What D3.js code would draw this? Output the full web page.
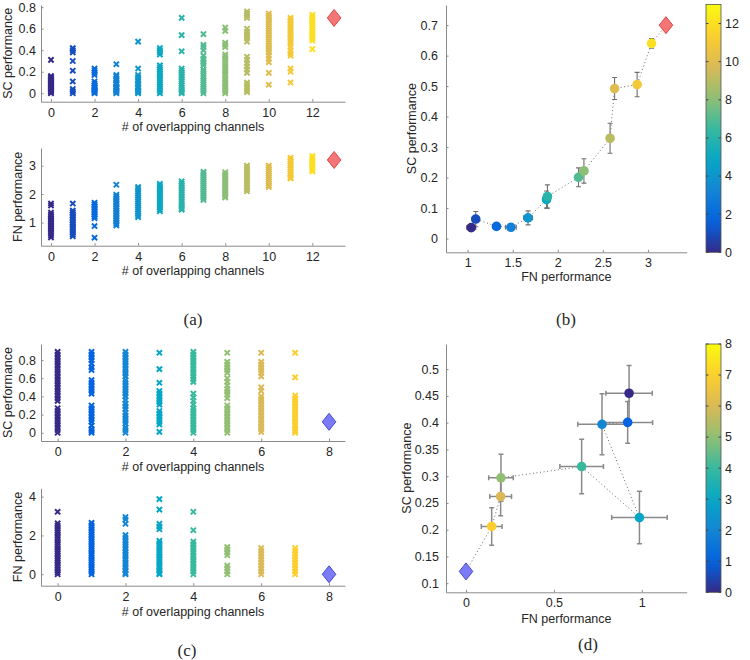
<!DOCTYPE html>
<html><head><meta charset="utf-8">
<script src="https://cdn.jsdelivr.net/npm/d3@7"></script>
<style>
body{margin:0;background:#fff}
text{font-family:"Liberation Sans",Arial,sans-serif;fill:#262626}
</style>
</head><body>
<svg id="chart" width="750" height="660"></svg>
<script>
// ---------------- DATA ----------------
// Panel (a): SC performance per # of overlapping channels (0..12)
const scA_SC = [
 [0.31,0.16,0.15,0.14,0.13,0.12,0.11,0.10,0.09,0.08,0.07,0.06,0.05,0.04,0.03,0.02,0.01,0.00],
 [0.42,0.40,0.38,0.30,0.21,0.11,0.04,0.02,0.00],
 [0.23,0.21,0.19,0.17,0.11,0.09,0.07,0.06,0.05,0.04,0.03,0.02,0.01,0.00],
 [0.27,0.17,0.16,0.14,0.12,0.10,0.09,0.08,0.06,0.05,0.04,0.03,0.02,0.01,0.00],
 [0.48,0.23,0.17,0.15,0.13,0.11,0.09,0.08,0.06,0.05,0.03,0.02,0.01,0.00],
 [0.42,0.40,0.38,0.36,0.26,0.24,0.22,0.20,0.18,0.16,0.14,0.12,0.10,0.08,0.06,0.04,0.02,0.00],
 [0.70,0.54,0.39,0.23,0.21,0.19,0.17,0.15,0.13,0.11,0.09,0.07,0.05,0.03,0.01,0.00],
 [0.55,0.45,0.43,0.40,0.35,0.32,0.30,0.28,0.26,0.22,0.20,0.17,0.15,0.12,0.10,0.08,0.06,0.04,0.02,0.00],
 [0.61,0.58,0.47,0.45,0.43,0.36,0.34,0.32,0.30,0.27,0.25,0.23,0.21,0.19,0.17,0.14,0.12,0.10,0.08,0.06,0.04,0.02,0.00],
 [0.76,0.74,0.72,0.70,0.60,0.57,0.55,0.53,0.51,0.48,0.34,0.31,0.28,0.25,0.22,0.19,0.10,0.08,0.05,0.03,0.01],
 [0.74,0.72,0.70,0.68,0.66,0.64,0.62,0.60,0.58,0.56,0.54,0.52,0.50,0.48,0.46,0.44,0.42,0.40,0.38,0.35,0.32,0.29,0.19,0.08],
 [0.70,0.68,0.66,0.64,0.62,0.60,0.58,0.56,0.54,0.52,0.50,0.48,0.46,0.43,0.40,0.37,0.35,0.23,0.20,0.10],
 [0.73,0.71,0.69,0.67,0.65,0.63,0.61,0.59,0.57,0.55,0.53,0.51,0.49,0.41]
];
// Panel (a): FN performance per # of overlapping channels (0..12)
const scA_FN = [
 [1.67,1.60,1.35,1.28,1.22,1.16,1.10,1.04,0.98,0.92,0.86,0.80,0.74,0.68,0.62,0.55,0.48],
 [1.67,1.42,1.36,1.30,1.24,1.18,1.12,1.06,1.00,0.94,0.88,0.82,0.76,0.70,0.64,0.58,0.52],
 [1.70,1.64,1.58,1.52,1.46,1.40,1.34,1.28,1.22,1.16,0.88,0.47],
 [2.33,1.98,1.92,1.86,1.80,1.74,1.68,1.62,1.56,1.50,1.44,1.38,1.32,1.26,1.20,1.14,1.08,1.02,0.96,0.90],
 [2.25,2.18,2.10,2.03,1.96,1.89,1.82,1.75,1.68,1.61,1.54,1.47,1.40,1.33,1.26,1.19],
 [2.36,2.29,2.22,2.15,2.08,2.01,1.94,1.87,1.80,1.73,1.66,1.59,1.52,1.45,1.40],
 [2.45,2.38,2.30,2.22,2.14,2.06,1.98,1.90,1.82,1.74,1.66,1.58,1.50,1.45],
 [2.78,2.71,2.64,2.57,2.50,2.43,2.36,2.29,2.22,2.15,2.08,2.01,1.94,1.87,1.80],
 [2.77,2.70,2.63,2.56,2.49,2.42,2.35,2.28,2.21,2.14,2.07,2.00,1.93,1.88],
 [3.00,2.93,2.86,2.79,2.72,2.65,2.58,2.51,2.44,2.37,2.30,2.23,2.16,2.10],
 [3.00,2.93,2.86,2.79,2.72,2.65,2.58,2.51,2.44,2.37,2.30,2.25],
 [3.28,3.21,3.14,3.07,3.00,2.93,2.86,2.79,2.72,2.65,2.58,2.55],
 [3.34,3.27,3.20,3.13,3.06,2.99,2.92,2.85,2.80]
];
const refA_channels = 13, refA_SC = 0.70, refA_FN = 3.2;

// Panel (b): mean FN / SC per # of overlapping channels (0..12) with errors
const ptsB_FN    = [1.04,1.09,1.32,1.48,1.67,1.875,1.885,2.23,2.29,2.58,2.63,2.88,3.04];
const ptsB_SC    = [0.036,0.064,0.040,0.037,0.068,0.128,0.138,0.201,0.222,0.329,0.492,0.505,0.640];
const ptsB_FNerr = [0.05,0.04,0.04,0.06,0.05,0.04,0.04,0.03,0.04,0.03,0.03,0.02,0.02];
const ptsB_SCerr = [0.010,0.025,0.010,0.010,0.023,0.028,0.038,0.031,0.040,0.049,0.036,0.040,0.016];
const refB_FN = 3.2, refB_SC = 0.70;

// Panel (c): SC / FN performance per # of overlapping channels (0..7)
const scC_SC = [
 [0.89,0.86,0.83,0.80,0.77,0.74,0.71,0.68,0.65,0.62,0.59,0.56,0.53,0.50,0.47,0.44,0.41,0.38,0.35,0.27,0.24,0.21,0.18,0.15,0.12,0.09,0.06,0.03,0.00],
 [0.89,0.86,0.83,0.80,0.76,0.72,0.69,0.58,0.55,0.52,0.49,0.46,0.43,0.30,0.27,0.24,0.21,0.18,0.15,0.12,0.08,0.04,0.02,0.00],
 [0.89,0.86,0.83,0.80,0.77,0.74,0.71,0.68,0.65,0.62,0.58,0.55,0.52,0.49,0.46,0.43,0.40,0.36,0.32,0.29,0.26,0.22,0.19,0.16,0.13,0.10,0.06,0.03,0.00],
 [0.88,0.70,0.55,0.46,0.43,0.40,0.37,0.34,0.31,0.24,0.21,0.18,0.15,0.12,0.09,0.01],
 [0.89,0.86,0.83,0.80,0.77,0.74,0.71,0.68,0.65,0.62,0.59,0.56,0.43,0.39,0.35,0.31,0.27,0.24,0.21,0.18,0.15,0.12,0.09,0.06,0.03,0.00],
 [0.88,0.78,0.75,0.72,0.69,0.66,0.60,0.56,0.52,0.48,0.45,0.42,0.38,0.30,0.27,0.24,0.21,0.18,0.15,0.12,0.09,0.06,0.03,0.00],
 [0.88,0.78,0.75,0.72,0.69,0.66,0.62,0.50,0.46,0.40,0.37,0.34,0.31,0.28,0.25,0.22,0.19,0.16,0.13,0.10,0.07,0.04,0.01],
 [0.88,0.61,0.41,0.38,0.35,0.32,0.29,0.26,0.23,0.20,0.17,0.14,0.11,0.08,0.05,0.02,0.00]
];
const scC_FN = [
 [3.22,2.62,2.50,2.38,2.26,2.14,2.02,1.90,1.78,1.66,1.54,1.42,1.30,1.18,1.06,0.94,0.82,0.70,0.58,0.46,0.34,0.22,0.10,0.00],
 [2.65,2.52,2.40,2.28,2.16,2.04,1.92,1.80,1.68,1.56,1.44,1.32,1.20,1.08,0.96,0.84,0.72,0.60,0.48,0.36,0.24,0.12,0.00],
 [2.95,2.82,2.60,2.02,1.88,1.74,1.60,1.46,1.32,1.18,1.04,0.90,0.76,0.62,0.48,0.34,0.20,0.06,0.00],
 [3.87,3.33,2.60,2.45,2.32,1.72,1.60,1.48,1.36,1.24,1.12,1.00,0.88,0.76,0.64,0.52,0.40,0.28,0.16,0.04,0.00],
 [3.22,2.27,1.68,1.54,1.40,1.26,1.12,0.98,0.84,0.70,0.56,0.42,0.28,0.14,0.00],
 [1.40,1.27,1.12,0.98,0.45,0.32,0.15,0.00],
 [1.35,1.20,1.05,0.90,0.75,0.60,0.45,0.30,0.15,0.00],
 [1.35,1.20,1.05,0.90,0.75,0.60,0.45,0.30,0.15,0.00]
];
const refC_channels = 8, refC_SC = 0.12, refC_FN = 0.0;

// Panel (d): mean FN / SC per # of overlapping channels (0..7) with errors
const ptsD_FN    = [0.928,0.920,0.774,0.987,0.658,0.199,0.197,0.146];
const ptsD_SC    = [0.455,0.4005,0.397,0.2226,0.318,0.297,0.262,0.206];
const ptsD_FNerr = [0.132,0.142,0.138,0.158,0.124,0.070,0.062,0.059];
const ptsD_SCerr = [0.052,0.039,0.057,0.049,0.051,0.044,0.036,0.035];
const refD_FN = 0.0, refD_SC = 0.122;

// tick values
const ticksA_x = [0,2,4,6,8,10,12];
const ticksA_ySC = [0,0.2,0.4,0.6,0.8];
const ticksA_yFN = [1,2,3];
const ticksB_x = [1,1.5,2,2.5,3];
const ticksB_y = [0,0.1,0.2,0.3,0.4,0.5,0.6,0.7];
const ticksC_x = [0,2,4,6,8];
const ticksC_ySC = [0,0.2,0.4,0.6,0.8];
const ticksC_yFN = [0,2,4];
const ticksD_x = [0,0.5,1];
const ticksD_y = [0.1,0.15,0.2,0.25,0.3,0.35,0.4,0.45,0.5];
const ticksCbarB = [0,2,4,6,8,10,12];
const ticksCbarD = [0,1,2,3,4,5,6,7,8];

// ---------------- DRAW ----------------
const svg = d3.select("#chart");
const parulaStops = ["#352a87","#0363e1","#1485d4","#06a7c6","#38b99e","#92bf73","#d9ba56","#fcce2e","#f9fb0e"];
const parula = d3.scaleLinear().domain(d3.range(9).map(i=>i/8)).range(parulaStops).interpolate(d3.interpolateRgb).clamp(true);
const fmt = d => String(+(+d).toFixed(2));
const AX = "#8a8a8a";

function axes(o){
  const x = d3.scaleLinear().domain(o.xd).range([o.l,o.r]);
  const y = d3.scaleLinear().domain(o.yd).range([o.b,o.t]);
  const g = svg.append("g");
  const gx = g.append("g").attr("transform",`translate(0,${o.b})`)
    .call(d3.axisBottom(x).tickValues(o.xt).tickFormat(fmt).tickSizeInner(-2.5).tickSizeOuter(0).tickPadding(o.xpad||6));
  const gy = g.append("g").attr("transform",`translate(${o.l},0)`)
    .call(d3.axisLeft(y).tickValues(o.yt).tickFormat(fmt).tickSizeInner(-2.5).tickSizeOuter(0).tickPadding(o.ypad||5));
  [gx,gy].forEach(a=>{
    a.select(".domain").attr("stroke",AX);
    a.selectAll(".tick line").attr("stroke",AX);
    a.selectAll(".tick text").attr("font-size",12.5).attr("fill","#262626")
      .attr("font-family","'Liberation Sans',Arial,sans-serif");
  });
  g.append("text").attr("x",(o.l+o.r)/2).attr("y",o.xly).attr("text-anchor","middle")
    .attr("font-size",12.5).text(o.xlabel);
  g.append("text").attr("transform",`translate(${o.ylx},${(o.t+o.b)/2}) rotate(-90)`)
    .attr("text-anchor","middle").attr("dy","0.35em").attr("font-size",12.5).text(o.ylabel);
  return {x,y,g};
}

const crossPath = "M-2.6,-2.6L2.6,2.6M-2.6,2.6L2.6,-2.6";
const diamondPath = "M0,-8.5L6.8,0L0,8.5L-6.8,0Z";

function scatterPanel(o, cols, nColor, refX, refY, refFill, refStroke){
  const {x,y,g} = axes(o);
  const pts = [];
  cols.forEach((vals,i)=>vals.forEach(v=>pts.push({c:i,v})));
  g.append("g").selectAll("path").data(pts).join("path")
    .attr("d",crossPath)
    .attr("transform",d=>`translate(${x(d.c)},${y(d.v)})`)
    .attr("stroke",d=>parula(d.c/nColor)).attr("stroke-width",2).attr("fill","none");
  g.append("path").attr("d",diamondPath)
    .attr("transform",`translate(${x(refX)},${y(refY)})`)
    .attr("fill",refFill).attr("stroke",refStroke).attr("stroke-width",1);
}

function meanPanel(o, fn, sc, fnE, scE, nColor, refX, refY, refFill, refStroke, ebStroke, ebW){
  const {x,y,g} = axes(o);
  const data = fn.map((f,i)=>({i,f,s:sc[i],fe:fnE[i],se:scE[i]}));
  const line = d3.line().x(d=>x(d[0])).y(d=>y(d[1]));
  const lp = data.map(d=>[d.f,d.s]).concat([[refX,refY]]);
  g.append("path").attr("d",line(lp)).attr("fill","none").attr("stroke","#6a6a6a")
    .attr("stroke-width",1).attr("stroke-dasharray","1,2.6");
  const cap = 2.5;
  const eb = g.append("g").attr("stroke",ebStroke).attr("stroke-width",ebW).attr("fill","none");
  data.forEach(d=>{
    const cx=x(d.f), cy=y(d.s);
    const y1=y(d.s-d.se), y2=y(d.s+d.se), x1=x(d.f-d.fe), x2=x(d.f+d.fe);
    eb.append("path").attr("d",
      `M${cx},${y1}V${y2}M${cx-cap},${y1}H${cx+cap}M${cx-cap},${y2}H${cx+cap}`+
      `M${x1},${cy}H${x2}M${x1},${cy-cap}V${cy+cap}M${x2},${cy-cap}V${cy+cap}`);
  });
  g.append("g").selectAll("circle").data(data).join("circle")
    .attr("cx",d=>x(d.f)).attr("cy",d=>y(d.s)).attr("r",4.8)
    .attr("fill",d=>parula(d.i/nColor));
  g.append("path").attr("d",diamondPath)
    .attr("transform",`translate(${x(refX)},${y(refY)})`)
    .attr("fill",refFill).attr("stroke",refStroke).attr("stroke-width",1);
}

function colorbar(id, l, r, t, b, maxV, ticks){
  const grad = svg.append("defs").append("linearGradient").attr("id",id)
    .attr("x1",0).attr("y1",1).attr("x2",0).attr("y2",0);
  d3.range(0,1.0001,0.05).forEach(p=>grad.append("stop").attr("offset",p).attr("stop-color",parula(p)));
  const s = d3.scaleLinear().domain([0,maxV]).range([b,t]);
  const g = svg.append("g");
  g.append("rect").attr("x",l).attr("y",t).attr("width",r-l).attr("height",b-t)
    .attr("fill",`url(#${id})`).attr("stroke","#555").attr("stroke-width",0.8);
  g.selectAll("line.tl").data(ticks).join("line")
    .attr("x1",l).attr("x2",l+2.5).attr("y1",d=>s(d)).attr("y2",d=>s(d)).attr("stroke","#444");
  g.selectAll("line.tr").data(ticks).join("line").attr("class","tr")
    .attr("x1",r-2.5).attr("x2",r).attr("y1",d=>s(d)).attr("y2",d=>s(d)).attr("stroke","#444");
  g.selectAll("text").data(ticks).join("text")
    .attr("x",r+4).attr("y",d=>s(d)).attr("dy","0.35em").attr("font-size",12.5).text(d=>d);
}

// (a) top
scatterPanel({l:41,r:345,t:5,b:101.7,xd:[-0.459,13.5],yd:[-0.078,0.82],xt:ticksA_x,yt:ticksA_ySC,
  xly:131,ylx:8,xlabel:"# of overlapping channels",ylabel:"SC performance"},
  scA_SC,13,refA_channels,refA_SC,"#f47575","#d94a4a");
// (a) bottom
scatterPanel({l:41,r:345,t:148,b:245.7,xd:[-0.459,13.5],yd:[0.19,3.62],xt:ticksA_x,yt:ticksA_yFN,
  xly:275,ylx:18,xlabel:"# of overlapping channels",ylabel:"FN performance"},
  scA_FN,13,refA_channels,refA_FN,"#f47575","#d94a4a");
// (b)
meanPanel({l:446,r:686.7,t:5,b:252.3,xd:[0.76,3.43],yd:[-0.045,0.766],xt:ticksB_x,yt:ticksB_y,
  xly:281,ylx:412,ypad:8,xlabel:"FN performance",ylabel:"SC performance"},
  ptsB_FN,ptsB_SC,ptsB_FNerr,ptsB_SCerr,13,refB_FN,refB_SC,"#f47575","#d94a4a","#707070",1.1);
colorbar("cbB",706,721,4.5,252.3,13,ticksCbarB);
// (c) top
scatterPanel({l:41,r:345,t:344,b:441,xd:[-0.49,8.47],yd:[-0.091,0.977],xt:ticksC_x,yt:ticksC_ySC,
  xly:471,ylx:8,xlabel:"# of overlapping channels",ylabel:"SC performance"},
  scC_SC,8,refC_channels,refC_SC,"#7b7bf7","#4b4bd0");
// (c) bottom
scatterPanel({l:41,r:345,t:488.3,b:585.7,xd:[-0.49,8.47],yd:[-0.59,4.43],xt:ticksC_x,yt:ticksC_yFN,
  xly:616,ylx:18,xlabel:"# of overlapping channels",ylabel:"FN performance"},
  scC_FN,8,refC_channels,refC_FN,"#7b7bf7","#4b4bd0");
// (d)
meanPanel({l:446,r:686.7,t:344,b:592.3,xd:[-0.114,1.256],yd:[0.083,0.547],xt:ticksD_x,yt:ticksD_y,
  xly:623,ylx:407,ypad:7,xlabel:"FN performance",ylabel:"SC performance"},
  ptsD_FN,ptsD_SC,ptsD_FNerr,ptsD_SCerr,8,refD_FN,refD_SC,"#7b7bf7","#4b4bd0","#8a8a8a",1.5);
colorbar("cbD",706,721,344,592.3,8,ticksCbarD);

// captions
const caps = [["(a)",193,325],["(b)",566,325],["(c)",187,656],["(d)",588,650]];
svg.selectAll("text.cap").data(caps).join("text").attr("class","cap")
  .attr("x",d=>d[1]).attr("y",d=>d[2]).attr("text-anchor","middle")
  .attr("font-family","'Liberation Serif','Times New Roman',serif").attr("font-size",17)
  .style("font-family","'Liberation Serif','Times New Roman',serif")
  .text(d=>d[0]);
</script>
</body></html>
